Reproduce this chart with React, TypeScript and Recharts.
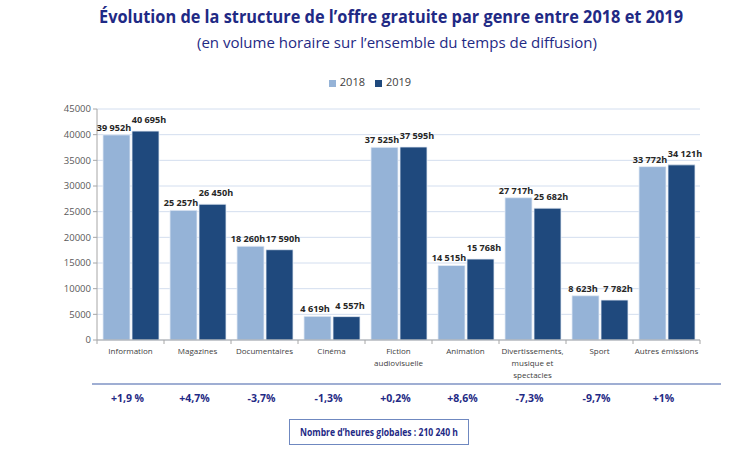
import React from 'react';
import { BarChart, Bar, XAxis, YAxis, CartesianGrid, Legend, LabelList } from 'recharts';

const categories = [
  'Information',
  'Magazines',
  'Documentaires',
  'Cinéma',
  'Fiction audiovisuelle',
  'Animation',
  'Divertissements, musique et spectacles',
  'Sport',
  'Autres émissions',
];
const categoryLines = [
  ['Information'],
  ['Magazines'],
  ['Documentaires'],
  ['Cinéma'],
  ['Fiction', 'audiovisuelle'],
  ['Animation'],
  ['Divertissements,', 'musique et', 'spectacles'],
  ['Sport'],
  ['Autres émissions'],
];
const hours2018 = [39952, 25257, 18260, 4619, 37525, 14515, 27717, 8623, 33772];
const hours2019 = [40695, 26450, 17590, 4557, 37595, 15768, 25682, 7782, 34121];
const changes = ['+1,9 %', '+4,7%', '-3,7%', '-1,3%', '+0,2%', '+8,6%', '-7,3%', '-9,7%', '+1%'];
const yTicks = [0, 5000, 10000, 15000, 20000, 25000, 30000, 35000, 40000, 45000];
const titleText = 'Évolution de la structure de l’offre gratuite par genre entre 2018 et 2019';
const subtitleText = '(en volume horaire sur l’ensemble du temps de diffusion)';
const totalText = 'Nombre d’heures globales : 210 240 h';

const data = categories.map((c, i) => ({
  name: c,
  y2018: hours2018[i],
  y2019: hours2019[i],
  change: changes[i],
}));

const FONT = "'Open Sans', 'Noto Sans', sans-serif";
const NAVY = '#1F2A85';
const C2018 = '#95B3D7';
const C2019 = '#1F497D';
const AXIS = '#A6A6A6';
const BAND = 67;

const fmt = (v: any) => String(v).replace(/\B(?=(\d{3})+(?!\d))/g, ' ') + 'h';

const CatTick = (props: any) => {
  const { x, y, index } = props;
  const lines = categoryLines[index] || [];
  return (
    <g>
      <line x1={x - BAND / 2} x2={x - BAND / 2} y1={y} y2={y + 4} stroke={AXIS} />
      {index === categories.length - 1 && (
        <line x1={x + BAND / 2} x2={x + BAND / 2} y1={y} y2={y + 4} stroke={AXIS} />
      )}
      <text x={x} y={y + 14} textAnchor="middle" fontSize={8} fill="#404040" fontFamily={FONT}>
        {lines.map((l, i) => (
          <tspan key={i} x={x} dy={i === 0 ? 0 : 12}>
            {l}
          </tspan>
        ))}
      </text>
    </g>
  );
};

const PctTick = (props: any) => {
  const { x, y, index } = props;
  return (
    <text x={x - 3} y={y + 18} textAnchor="middle" fontSize={10.5} fontWeight={700} fill={NAVY} fontFamily={FONT}>
      {changes[index]}
    </text>
  );
};

const ValueLabel = (dx: number, dy: number) => (props: any) => {
  const { x, y, width, value } = props;
  return (
    <text
      x={Number(x) + Number(width) / 2 + dx}
      y={Number(y) - dy}
      textAnchor="middle"
      fontSize={9.5}
      fontWeight={700}
      fill="#262626"
      fontFamily={FONT}
      textLength={fmt(value).length * 4.9}
      lengthAdjust="spacingAndGlyphs"
    >
      {fmt(value)}
    </text>
  );
};

export default function App() {
  return (
    <div style={{ position: 'absolute', left: 0, top: 0, width: 750, height: 451, background: '#fff', fontFamily: FONT }}>
      <BarChart
        width={750}
        height={451}
        data={data}
        margin={{ top: 94, right: 50, left: 0, bottom: 37 }}
        barCategoryGap={6}
        barGap={2}
      >
        <CartesianGrid vertical={false} stroke="#D3DEEF" />
        <XAxis
          dataKey="name"
          xAxisId={0}
          height={44}
          interval={0}
          tickLine={false}
          tickSize={0}
          tickMargin={0}
          axisLine={{ stroke: AXIS }}
          tick={<CatTick />}
        />
        <XAxis
          dataKey="name"
          xAxisId="pct"
          height={30}
          interval={0}
          tickLine={false}
          tickSize={0}
          tickMargin={0}
          axisLine={false}
          tick={<PctTick />}
        />
        <YAxis
          width={97}
          domain={[0, 45000]}
          ticks={yTicks}
          interval={0}
          tickSize={4}
          tickLine={{ stroke: AXIS }}
          axisLine={{ stroke: AXIS }}
          tick={{ fontSize: 9.5, fill: '#595959', fontFamily: FONT }}
        />
        <Legend
          verticalAlign="top"
          align="center"
          iconType="square"
          iconSize={7}
          wrapperStyle={{ top: 74, left: 0, width: 750, fontSize: 11, fontFamily: FONT }}
          formatter={(v: any) => <span style={{ color: '#404040' }}>{v}</span>}
        />
        <Bar dataKey="y2018" name="2018" fill={C2018} stroke="#E3EBF5" strokeWidth={0.8} isAnimationActive={false}>
          <LabelList dataKey="y2018" content={ValueLabel(-2.5, 4)} />
        </Bar>
        <Bar dataKey="y2019" name="2019" fill={C2019} stroke="#E3EBF5" strokeWidth={0.8} isAnimationActive={false}>
          <LabelList dataKey="y2019" content={ValueLabel(3.5, 8)} />
        </Bar>
      </BarChart>
      <svg width={750} height={451} style={{ position: 'absolute', left: 0, top: 0, pointerEvents: 'none' }}>
        <text x={391} y={23} textAnchor="middle" fontSize={18} fontWeight={700} fill={NAVY} fontFamily={FONT} textLength={584} lengthAdjust="spacingAndGlyphs">
          {titleText}
        </text>
        <text x={397} y={48} textAnchor="middle" fontSize={14.5} fill={NAVY} fontFamily={FONT} textLength={400} lengthAdjust="spacingAndGlyphs">
          {subtitleText}
        </text>
        <line x1={92} x2={721} y1={384} y2={384} stroke="#7F93C4" strokeWidth={1.5} />
        <rect x={289.5} y={419.5} width={179} height={25} fill="#fff" stroke="#6F88C0" strokeWidth={1} />
        <text x={379} y={436} textAnchor="middle" fontSize={10} fontWeight={700} fill={NAVY} fontFamily={FONT} textLength={158} lengthAdjust="spacingAndGlyphs">
          {totalText}
        </text>
      </svg>
    </div>
  );
}
